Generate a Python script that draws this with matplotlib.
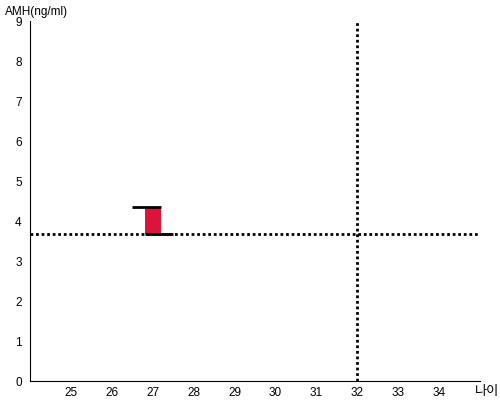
import matplotlib
matplotlib.use('Agg')
from matplotlib import pyplot as plt

plt.rcParams['font.family'] = ['Liberation Sans', 'Noto Sans CJK KR', 'DejaVu Sans']

# data
age = [27]
amh_low = [3.68]
amh_high = [4.35]
ref_age = 32
ref_amh = 3.68
x_ticks = [25, 26, 27, 28, 29, 30, 31, 32, 33, 34]
y_ticks = [0, 1, 2, 3, 4, 5, 6, 7, 8, 9]

fig = plt.figure(figsize=(5, 4), dpi=100)
ax = fig.add_axes([0.06, 0.0475, 0.90, 0.90])

for a, lo, hi in zip(age, amh_low, amh_high):
    ax.bar(a, hi - lo, bottom=lo, width=0.4, color='#dc143c', zorder=2)
    ax.hlines(hi, a - 0.5, a + 0.2, color='black', lw=2, zorder=3)
    ax.hlines(lo, a - 0.2, a + 0.5, color='black', lw=2, zorder=3)

ax.axhline(ref_amh, color='black', lw=2, ls=(0, (1, 1)), zorder=1)
ax.axvline(ref_age, color='black', lw=2, ls=(0, (1, 1)), zorder=1)

ax.set_xlim(24, 35)
ax.set_ylim(0, 9)
ax.set_xticks(x_ticks)
ax.set_yticks(y_ticks)
ax.tick_params(length=0, labelsize=8.5)
ax.tick_params(axis='y', pad=6)
ax.tick_params(axis='x', pad=4)
ax.spines['top'].set_visible(False)
ax.spines['right'].set_visible(False)

fig.text(0.01, 0.985, 'AMH(ng/ml)', fontsize=8.5, va='top', ha='left')
fig.text(0.998, 0.004, '나이', fontsize=9.5, va='bottom', ha='right',
         family=['Noto Sans CJK KR', 'DejaVu Sans'])

fig.savefig('out.png', dpi=100)
